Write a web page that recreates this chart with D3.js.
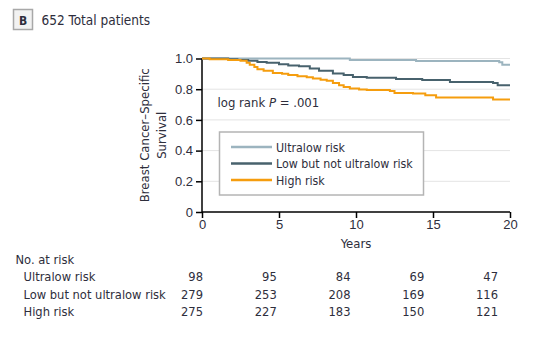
<!DOCTYPE html>
<html lang="en">
	<head>
		<meta charset="utf-8">
		<title>Breast cancer-specific survival, 652 total patients</title>
		<script src="https://d3js.org/d3.v7.min.js"></script>
		<style type="text/css">
			body {
				margin: 0;
				background: #fff;
			}
			svg {
				font-family: "Liberation Sans Narrow", "Arial Narrow", "DejaVu Sans Condensed", sans-serif;
				fill: #2e2e3c;
			}
			.grid line {
				stroke: #e4e4e4;
				stroke-width: 1px;
			}
			.curve {
				fill: none;
				stroke-width: 2px;
			}
		</style>
	</head>
	<body>
		<script type="text/javascript">

			// Width and height
			var w = 546;
			var h = 337;

			// Kaplan-Meier steps: [years, survival]
			var ultralowSteps = [[0, 1], [9.6, 0.99], [13.9, 0.983], [19.3, 0.975], [19.5, 0.96], [20, 0.96]];
			var lowSteps = [[0, 1], [1.7, 0.995], [2.3, 0.99], [3, 0.985], [3.6, 0.978], [4.2, 0.972], [5, 0.963],
				[5.6, 0.955], [6.3, 0.95], [7, 0.935], [7.6, 0.92], [8.5, 0.903], [9.2, 0.892], [9.8, 0.88],
				[10.7, 0.875], [12.6, 0.866], [14.3, 0.86], [16.1, 0.847], [18.9, 0.84], [19.2, 0.826], [20, 0.826]];
			var highSteps = [[0, 1], [0.5, 0.995], [1.7, 0.99], [2.5, 0.985], [2.9, 0.972], [3.1, 0.96], [3.4, 0.945],
				[3.6, 0.93], [4, 0.92], [4.6, 0.905], [5.2, 0.9], [5.6, 0.892], [6.2, 0.885], [6.8, 0.878],
				[7.2, 0.87], [7.7, 0.862], [8.1, 0.855], [8.5, 0.84], [8.9, 0.825], [9.2, 0.815], [9.6, 0.805],
				[10.2, 0.798], [10.7, 0.794], [12.2, 0.789], [12.5, 0.776], [13.7, 0.772], [14.5, 0.761],
				[15.2, 0.746], [18.9, 0.733], [20, 0.733]];

			var groups = ["Ultralow risk", "Low but not ultralow risk", "High risk"];
			var colors = ["#9cb4bf", "#48626d", "#f59d0e"];

			var xTicks = [0, 5, 10, 15, 20];
			var yTicks = [0, 0.2, 0.4, 0.6, 0.8, 1.0];

			// numbers at risk at 0, 5, 10, 15, 20 years
			var atRiskUltralow = [98, 95, 84, 69, 47];
			var atRiskLow = [279, 253, 208, 169, 116];
			var atRiskHigh = [275, 227, 183, 150, 121];

			var series = [ultralowSteps, lowSteps, highSteps];
			var atRisk = [atRiskUltralow, atRiskLow, atRiskHigh];

			var x = d3.scaleLinear().domain([0, 20]).range([202, 510]);
			var y = d3.scaleLinear().domain([0, 1]).range([212, 58.5]);
			var xTable = d3.scaleLinear().domain([0, 20]).range([203, 498]);

			var svg = d3.select("body")
						.append("svg")
						.attr("width", w)
						.attr("height", h);

			// panel label
			svg.append("rect")
				.attr("x", 13.5).attr("y", 9.5)
				.attr("width", 19).attr("height", 20)
				.style("fill", "#f2f2f2")
				.style("stroke", "#a8a8a8")
				.style("stroke-width", 1.5);
			svg.append("text")
				.attr("x", 23).attr("y", 24.5)
				.attr("text-anchor", "middle")
				.style("font-weight", "bold")
				.style("font-size", "12px")
				.text("B");
			svg.append("text")
				.attr("x", 41.5).attr("y", 24.5)
				.style("font-size", "13.5px")
				.text("652 Total patients");

			// gridlines
			svg.append("g")
				.attr("class", "grid")
				.selectAll("line")
				.data(yTicks.filter(function(d) { return d > 0; }))
				.enter()
				.append("line")
				.attr("x1", x(0)).attr("x2", x(20))
				.attr("y1", function(d) { return y(d); })
				.attr("y2", function(d) { return y(d); });

			// axes
			var yAxis = svg.append("g")
				.attr("transform", "translate(" + x(0) + ",0)")
				.call(d3.axisLeft(y).tickValues(yTicks).tickSize(6).tickPadding(3)
					.tickFormat(function(d) { return d === 0 ? "0" : d3.format(".1f")(d); }));
			var xAxis = svg.append("g")
				.attr("transform", "translate(0," + y(0) + ")")
				.call(d3.axisBottom(x).tickValues(xTicks).tickSize(6).tickPadding(2));

			[xAxis, yAxis].forEach(function(a) {
				a.select(".domain").style("stroke", "#000").style("stroke-width", 1.5);
				a.selectAll(".tick line").style("stroke", "#000").style("stroke-width", 1.5);
				a.selectAll(".tick text")
					.style("font-family", "inherit")
					.style("font-size", "13px")
					.style("fill", "#2e2e3c");
			});
			yAxis.select(".domain").attr("d", "M0," + y(0) + "V" + y(1));
			xAxis.select(".domain").attr("d", "M" + x(0) + ",0H" + x(20));

			// axis titles
			svg.append("text")
				.attr("transform", "translate(149," + y(0.5) + ")rotate(-90)")
				.attr("text-anchor", "middle")
				.style("font-size", "13px")
				.text("Breast Cancer\u2013Specific");
			svg.append("text")
				.attr("transform", "translate(166," + y(0.5) + ")rotate(-90)")
				.attr("text-anchor", "middle")
				.style("font-size", "13px")
				.text("Survival");
			svg.append("text")
				.attr("x", x(10)).attr("y", 248)
				.attr("text-anchor", "middle")
				.style("font-size", "13px")
				.text("Years");

			// survival curves
			var line = d3.line()
				.x(function(d) { return x(d[0]); })
				.y(function(d) { return y(d[1]); })
				.curve(d3.curveStepAfter);

			svg.selectAll("path.curve")
				.data(series)
				.enter()
				.append("path")
				.attr("class", "curve")
				.attr("d", line)
				.style("stroke", function(d, i) { return colors[i]; });

			// log rank
			var lr = svg.append("text")
				.attr("x", 217.5).attr("y", 107)
				.style("font-size", "13px");
			lr.append("tspan").text("log rank ");
			lr.append("tspan").style("font-style", "italic").text("P");
			lr.append("tspan").text(" = .001");

			// legend
			var legend = svg.append("g");
			legend.append("rect")
				.attr("x", 219.5).attr("y", 132)
				.attr("width", 204).attr("height", 63)
				.style("fill", "#fff")
				.style("stroke", "#b4b4b4")
				.style("stroke-width", 1.5);
			var rows = legend.selectAll("g.row")
				.data(groups)
				.enter()
				.append("g")
				.attr("class", "row")
				.attr("transform", function(d, i) { return "translate(0," + (147 + i * 16.5) + ")"; });
			rows.append("line")
				.attr("x1", 231).attr("x2", 272)
				.style("stroke", function(d, i) { return colors[i]; })
				.style("stroke-width", 2.5);
			rows.append("text")
				.attr("x", 276).attr("y", 4.5)
				.style("font-size", "12.3px")
				.text(function(d) { return d; });

			// number at risk table
			svg.append("text")
				.attr("x", 15.5).attr("y", 264)
				.style("font-size", "12.8px")
				.text("No. at risk");
			var tableRows = svg.selectAll("g.risk")
				.data(groups)
				.enter()
				.append("g")
				.attr("class", "risk")
				.attr("transform", function(d, i) { return "translate(0," + (281 + i * 17.5) + ")"; });
			tableRows.append("text")
				.attr("x", 23.5)
				.style("font-size", "12.8px")
				.text(function(d) { return d; });
			tableRows.selectAll("text.n")
				.data(function(d, i) { return atRisk[i]; })
				.enter()
				.append("text")
				.attr("class", "n")
				.attr("x", function(d, i) { return xTable(xTicks[i]); })
				.attr("text-anchor", "end")
				.style("font-size", "12.8px")
				.text(function(d) { return d; });

		</script>
	</body>
</html>
